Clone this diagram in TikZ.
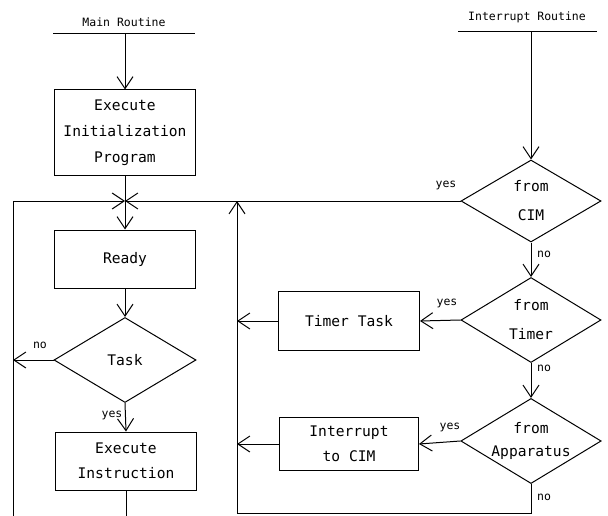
\documentclass[tikz,border=0pt]{standalone}
\usepackage{fontspec}
\setmainfont{DejaVu Sans Mono}
\usetikzlibrary{shapes.geometric,arrows.meta}
\begin{document}
\begin{tikzpicture}[x=1pt,y=-1pt,
  ln/.style={line width=1pt},
  arr/.style={-{Straight Barb[length=12pt,width=16pt,line width=1pt]}},
  box/.style={draw,line width=1pt,minimum width=141pt,minimum height=58pt,inner sep=0pt,align=center,font=\fontsize{14.6}{25}\selectfont},
  dia/.style={draw,diamond,line width=1pt,shape aspect=1.65,minimum width=140pt,minimum height=85pt,inner sep=0pt,align=center,font=\fontsize{14.6}{29}\selectfont},
  lbl/.style={inner sep=0pt,font=\fontsize{11.5}{13}\selectfont}]
\useasboundingbox (0,0) rectangle (608,516);
% main routine
\node[lbl] (mainlbl) at (124,22) {Main Routine};
\coordinate (mainL) at (53,34);
\coordinate (mainR) at (195,34);
\coordinate (mainC) at (125,34);
\node[box,minimum height=86pt,font=\fontsize{14.6}{26}\selectfont] (init) at (125,133) {Execute\\Initialization\\Program};
\coordinate (J) at (125,201);
\node[box] (ready) at (125,259) {Ready};
\node[dia,minimum width=142pt] (task) at (125,360) {Task};
\node[box] (execi) at (126,461) {Execute\\Instruction};
\coordinate (ebot) at (126,516);
\coordinate (Lbot) at (13,516);
% interrupt routine
\node[lbl] (intlbl) at (527,17) {Interrupt Routine};
\coordinate (intL) at (458,32);
\coordinate (intR) at (597,32);
\coordinate (intC) at (531,32);
\node[dia,minimum height=82pt] (cim) at (531,201) {from\\CIM};
\node[dia] (timer) at (531,320) {from\\Timer};
\node[dia,font=\fontsize{14.6}{23}\selectfont] (app) at (531,441) {from\\Apparatus};
\node[box,minimum height=59pt] (ttask) at (349,321) {Timer Task};
\node[box,minimum width=139pt,minimum height=53pt] (icim) at (349,444) {Interrupt\\to CIM};
\coordinate (rb) at (237,513);
\coordinate (rt) at (237,201);
% labels
\node[lbl] (lno1) at (40,345) {no};
\node[lbl] (lyes1) at (112,415) {yes};
\node[lbl] (lyes2) at (446,185) {yes};
\node[lbl] (lno2) at (544,254) {no};
\node[lbl] (lyes3) at (447,303) {yes};
\node[lbl] (lno3) at (544,368) {no};
\node[lbl] (lyes4) at (450,427) {yes};
\node[lbl] (lno4) at (544,497) {no};
% connectors
\draw[ln] (mainL) -- (mainR);
\draw[ln,arr] (mainC) -- (init.north);
\draw[ln] (init.south) -- (J);
\draw[ln,arr] (Lbot) |- (J);
\draw[ln,arr] (cim.west) -- (J);
\draw[ln,arr] (J) -- (ready.north);
\draw[ln,arr] (ready.south) -- (task.north);
\draw[ln,arr] (task.west) -- (task.west -| Lbot);
\draw[ln,arr] (task.south) -- (execi.north);
\draw[ln] (execi.south) -- (ebot);
\draw[ln] (intL) -- (intR);
\draw[ln,arr] (intC) -- (cim.north);
\draw[ln,arr] (cim.south) -- (timer.north);
\draw[ln,arr] (timer.south) -- (app.north);
\draw[ln,arr] (timer.west) -- (ttask.east);
\draw[ln,arr] (ttask.west) -- (ttask.west -| rb);
\draw[ln,arr] (app.west) -- (icim.east);
\draw[ln,arr] (icim.west) -- (icim.west -| rb);
\draw[ln,arr] (app.south) |- (rb) -- (rt);
\end{tikzpicture}
\end{document}
